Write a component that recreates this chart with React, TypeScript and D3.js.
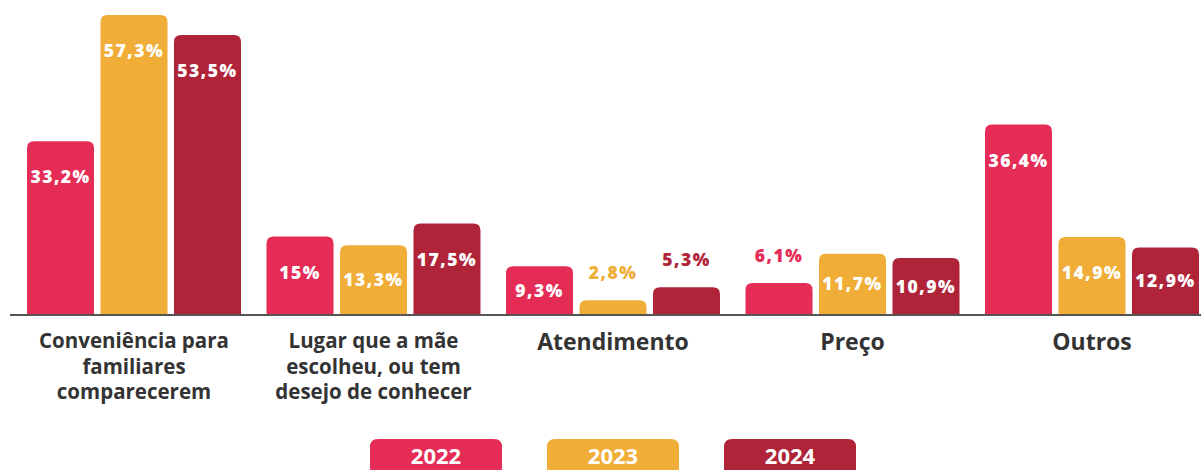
import React from "react";
import * as d3 from "d3";

const categories = [
  ["Conveniência para", "familiares", "comparecerem"],
  ["Lugar que a mãe", "escolheu, ou tem", "desejo de conhecer"],
  ["Atendimento"],
  ["Preço"],
  ["Outros"],
];
const categoryKeys = ["conv", "lugar", "atend", "preco", "outros"];
const years = ["2022", "2023", "2024"];
const values2022 = [33.2, 15, 9.3, 6.1, 36.4];
const values2023 = [57.3, 13.3, 2.8, 11.7, 14.9];
const values2024 = [53.5, 17.5, 5.3, 10.9, 12.9];
const seriesValues = [values2022, values2023, values2024];
const colors = ["#E52C56", "#F0AD38", "#B0243A"];

const W = 1201;
const H = 470;
const baseline = 315;
const FONT = "'Open Sans', 'Noto Sans', sans-serif";

function fmt(v: number) {
  return String(v).replace(".", ",") + "%";
}

function roundTopRect(x: number, y: number, w: number, h: number, r: number) {
  const rr = Math.min(r, h, w / 2);
  return `M${x},${y + h}V${y + rr}Q${x},${y} ${x + rr},${y}H${x + w - rr}Q${x + w},${y} ${x + w},${y + rr}V${y + h}Z`;
}

export default function App() {
  const x0 = d3.scaleBand<string>().domain(categoryKeys).range([27, 1199]).paddingInner(0.1065).paddingOuter(0);
  const x1 = d3.scaleBand<string>().domain(years).range([0, x0.bandwidth()]).paddingInner(0.088).paddingOuter(0);
  const y = d3.scaleLinear().domain([0, 57.3]).range([baseline, 15]);

  return (
    <svg width={W} height={H} style={{ position: "absolute", left: 0, top: 0 }}>
      <rect width={W} height={H} fill="#fff" />
      {categoryKeys.map((c, ci) => (
        <g key={c} transform={`translate(${x0(c)},0)`}>
          {years.map((yr, si) => {
            const v = seriesValues[si][ci];
            const top = y(v);
            const h = baseline - top;
            const bx = x1(yr)!;
            const bw = x1.bandwidth();
            const inside = h > 40;
            const ly = inside ? top + Math.min(36, h / 2) : top - 27;
            return (
              <g key={yr}>
                <path d={roundTopRect(bx, top, bw, h, 7)} fill={colors[si]} />
                <text
                  x={bx + bw / 2}
                  y={ly}
                  dy="0.35em"
                  textAnchor="middle"
                  fill={inside ? "#fff" : colors[si]}
                  fontFamily={FONT}
                  fontWeight={800}
                  fontSize={17.5}
                  letterSpacing={1.5}
                >
                  {fmt(v)}
                </text>
              </g>
            );
          })}
          {categories[ci].map((line, li) => (
            <text
              key={li}
              x={x0.bandwidth() / 2}
              y={categories[ci].length > 1 ? 348 + li * 25.5 : 350}
              textAnchor="middle"
              fill="#333"
              fontFamily={FONT}
              fontWeight={700}
              fontSize={categories[ci].length > 1 ? 20.5 : 23}
            >
              {line}
            </text>
          ))}
        </g>
      ))}
      <line x1={10} x2={W} y1={baseline} y2={baseline} stroke="#555" strokeWidth={2} />
      {years.map((yr, i) => {
        const cx = 436 + i * 177;
        return (
          <g key={yr}>
            <path d={roundTopRect(cx - 66, 439, 132, 40, 8)} fill={colors[i]} />
            <text
              x={cx}
              y={456}
              dy="0.35em"
              textAnchor="middle"
              fill="#fff"
              fontFamily={FONT}
              fontWeight={700}
              fontSize={22}
            >
              {yr}
            </text>
          </g>
        );
      })}
    </svg>
  );
}
